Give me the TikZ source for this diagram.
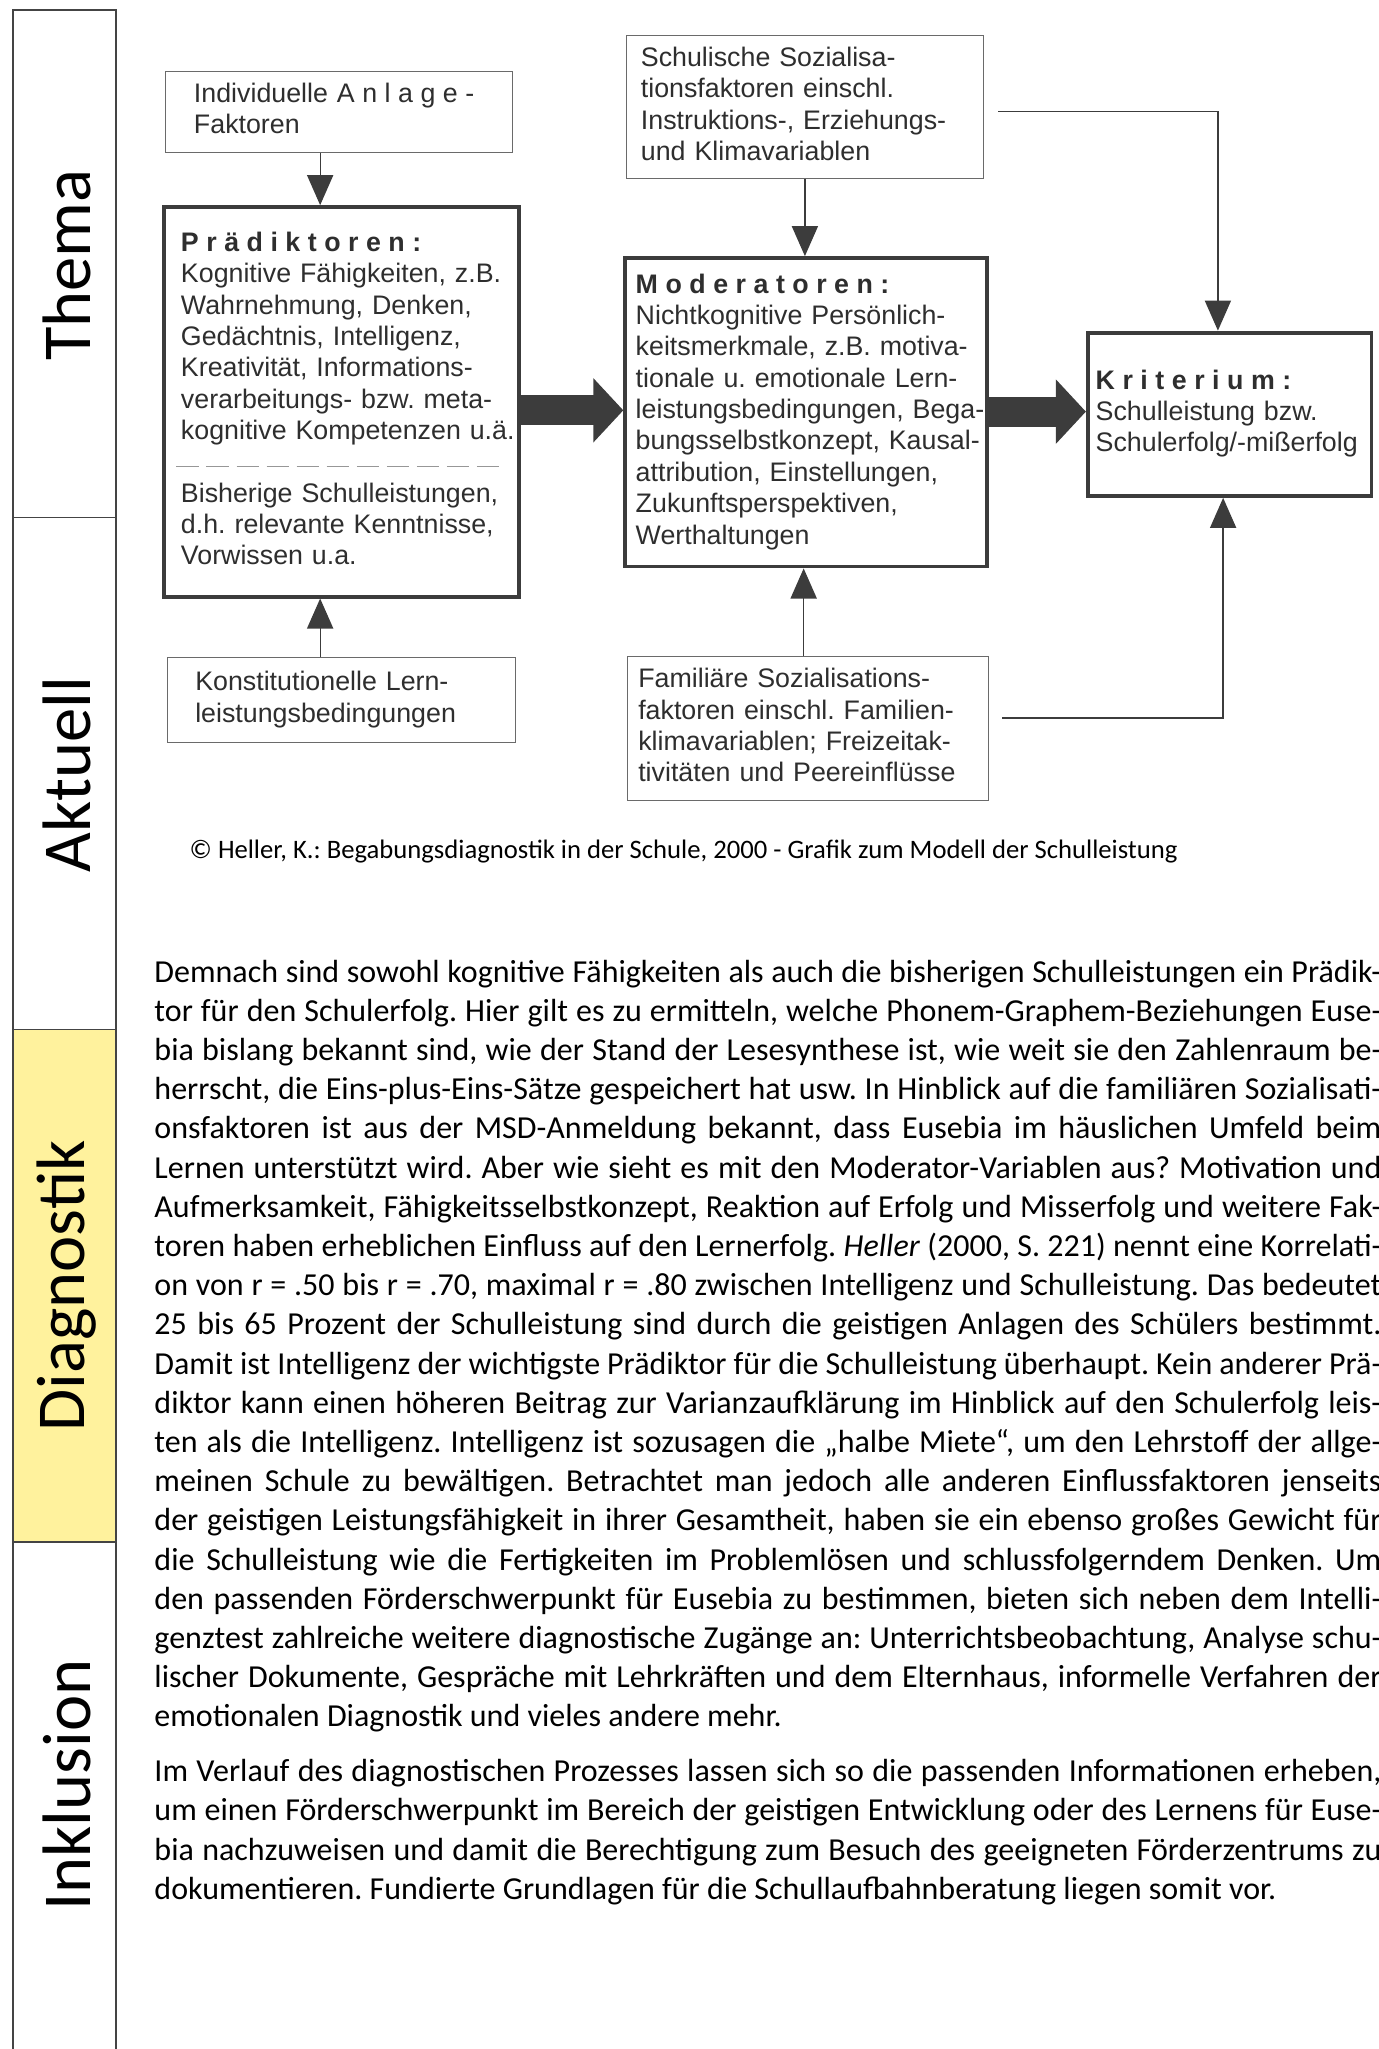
\documentclass[tikz,border=0pt]{standalone}
\usepackage{fontspec}
\setmainfont{Carlito}
\newfontfamily\diafont{Liberation Sans}
\usetikzlibrary{arrows.meta,calc}
\definecolor{ink}{HTML}{2E2E2E}
\definecolor{frame}{HTML}{3C3C3C}
\definecolor{thinframe}{HTML}{6A6A6A}
\definecolor{sideyellow}{HTML}{FFF29D}
\definecolor{sideline}{HTML}{444444}
\newcommand\hd[1]{{\bfseries\addfontfeature{LetterSpace=28}#1}}
\newcommand\jl[1]{\hbox to\linewidth{#1}}
\begin{document}
\frenchspacing
\begin{tikzpicture}[x=1pt,y=-1pt,
  thinbox/.style={draw=thinframe, line width=0.9pt, fill=white, anchor=north west,
    inner ysep=0pt, align=left, text=ink, font=\diafont\fontsize{20.5}{24}\selectfont},
  thickbox/.style={thinbox, draw=frame, line width=3pt},
  thinarrow/.style={draw=frame, line width=1pt, -{Triangle[length=23pt,width=20pt]}},
  bigarrow/.style={draw=frame, line width=23pt, -{Triangle[length=23pt,width=48pt]}},
  sidelabel/.style={rotate=90, font=\fontsize{52.5}{60}\selectfont},
  bodytext/.style={anchor=base west, inner sep=0pt},
]
\useasboundingbox (0,0) rectangle (1055,1568);
\clip (0,0) rectangle (1055,1568);

% sidebar
\fill[sideyellow] (10,788) rectangle (89,1180);
\draw[sideline, line width=1.6pt] (10,1572) -- (10,8) -- (89,8) -- (89,1572);
\draw[sideline, line width=1pt] (10,396) -- (89,396) (10,788) -- (89,788) (10,1180) -- (89,1180);
\node[sidelabel] (sThema) at (51,203) {Thema};
\node[sidelabel] (sAktuell) at (51,593) {Aktuell};
\node[sidelabel] (sDiag) at (51,984) {Diagnostik};
\node[sidelabel] (sInkl) at (51,1366) {Inklusion};

% boxes
\node[thinbox, inner xsep=22pt, text width=222pt, minimum height=62pt] (anlage) at (126,54)
  {\begin{tabular}{@{}l@{}}Individuelle {\addfontfeature{LetterSpace=28}Anlage-}\\Faktoren\end{tabular}};
\node[thickbox, inner xsep=13pt, text width=246pt, minimum height=298pt] (praed) at (124,157)
  {\begin{tabular}{@{}l@{}}\hd{Prädiktoren:}\\Kognitive Fähigkeiten, z.B.\\Wahrnehmung, Denken,\\Gedächtnis, Intelligenz,\\Kreativität, Informations-\\verarbeitungs- bzw. meta-\\kognitive Kompetenzen u.ä.\\[24pt]Bisherige Schulleistungen,\\d.h. relevante Kenntnisse,\\Vorwissen u.a.\end{tabular}};
\node[thinbox, inner xsep=21pt, text width=224pt, minimum height=65pt] (konst) at (128,503)
  {\begin{tabular}{@{}l@{}}Konstitutionelle Lern-\\leistungsbedingungen\end{tabular}};
\node[thinbox, inner xsep=11pt, text width=251pt, minimum height=109pt] (schul) at (479,27)
  {\begin{tabular}{@{}l@{}}Schulische Sozialisa-\\tionsfaktoren einschl.\\Instruktions-, Erziehungs-\\und Klimavariablen\end{tabular}};
\node[thickbox, inner xsep=8pt, text width=261pt, minimum height=236pt] (mod) at (477,196)
  {\begin{tabular}{@{}l@{}}\hd{Moderatoren:}\\Nichtkognitive Persönlich-\\keitsmerkmale, z.B. motiva-\\tionale u. emotionale Lern-\\leistungsbedingungen, Bega-\\bungsselbstkonzept, Kausal-\\attribution, Einstellungen,\\Zukunftsperspektiven,\\Werthaltungen\end{tabular}};
\node[thinbox, inner xsep=8pt, text width=260pt, minimum height=110pt] (fam) at (480,502)
  {\begin{tabular}{@{}l@{}}Familiäre Sozialisations-\\faktoren einschl. Familien-\\klimavariablen; Freizeitak-\\tivitäten und Peereinflüsse\end{tabular}};
\node[thickbox, inner xsep=6pt, text width=205pt, minimum height=125pt] (krit) at (831,253)
  {\begin{tabular}{@{}l@{}}\hd{Kriterium:}\\Schulleistung bzw.\\Schulerfolg/-mißerfolg\end{tabular}};

% dashed separator in Praediktoren
\draw[thinframe!70, line width=0.8pt, dash pattern=on 17pt off 6pt] (135,357) -- (386,357);

% connectors
\draw[thinarrow] (245,0 |- anlage.south) -- (245,0 |- praed.north);
\draw[thinarrow] (245,0 |- konst.north) -- (245,0 |- praed.south);
\draw[thinarrow] (schul.south) -- (schul.south |- mod.north);
\draw[thinarrow] (615,0 |- fam.north) -- (615,0 |- mod.south);
\draw[bigarrow] (praed.east |- 0,314) -- (mod.west |- 0,314);
\draw[bigarrow] (mod.east |- 0,315) -- (krit.west |- 0,315);
\coordinate (s1) at ($(schul.east)+(11,3.5)$);
\draw[thinarrow] (s1) -| ($(krit.north)+(-9,0)$);
\coordinate (f1) at ($(fam.east)+(10,-8)$);
\draw[thinarrow] (f1) -| ($(krit.south)+(-5,0)$);

% caption
\node[bodytext, font=\fontsize{20.4}{24}\selectfont] (caption) at (145,657)
  {© Heller, K.: Begabungsdiagnostik in der Schule, 2000 - Grafik zum Modell der Schulleistung};

% body text
\node[bodytext] (para1) at (118,751.5) {\begin{minipage}[t]{939pt}\fontsize{24.5}{30}\selectfont
\jl{Demnach sind sowohl kognitive Fähigkeiten als auch die bisherigen Schulleistungen ein Prädik-}
\jl{tor für den Schulerfolg. Hier gilt es zu ermitteln, welche Phonem-Graphem-Beziehungen Euse-}
\jl{bia bislang bekannt sind, wie der Stand der Lesesynthese ist, wie weit sie den Zahlenraum be-}
\jl{herrscht, die Eins-plus-Eins-Sätze gespeichert hat usw. In Hinblick auf die familiären Sozialisati-}
\jl{onsfaktoren ist aus der MSD-Anmeldung bekannt, dass Eusebia im häuslichen Umfeld beim}
\jl{Lernen unterstützt wird. Aber wie sieht es mit den Moderator-Variablen aus? Motivation und}
\jl{Aufmerksamkeit, Fähigkeitsselbstkonzept, Reaktion auf Erfolg und Misserfolg und weitere Fak-}
\jl{toren haben erheblichen Einfluss auf den Lernerfolg. \textit{Heller} (2000, S. 221) nennt eine Korrelati-}
\jl{on von r = .50 bis r = .70, maximal r = .80 zwischen Intelligenz und Schulleistung. Das bedeutet}
\jl{25 bis 65 Prozent der Schulleistung sind durch die geistigen Anlagen des Schülers bestimmt.}
\jl{Damit ist Intelligenz der wichtigste Prädiktor für die Schulleistung überhaupt. Kein anderer Prä-}
\jl{diktor kann einen höheren Beitrag zur Varianzaufklärung im Hinblick auf den Schulerfolg leis-}
\jl{ten als die Intelligenz. Intelligenz ist sozusagen die „halbe Miete“, um den Lehrstoff der allge-}
\jl{meinen Schule zu bewältigen. Betrachtet man jedoch alle anderen Einflussfaktoren jenseits}
\jl{der geistigen Leistungsfähigkeit in ihrer Gesamtheit, haben sie ein ebenso großes Gewicht für}
\jl{die Schulleistung wie die Fertigkeiten im Problemlösen und schlussfolgerndem Denken. Um}
\jl{den passenden Förderschwerpunkt für Eusebia zu bestimmen, bieten sich neben dem Intelli-}
\jl{genztest zahlreiche weitere diagnostische Zugänge an: Unterrichtsbeobachtung, Analyse schu-}
\jl{lischer Dokumente, Gespräche mit Lehrkräften und dem Elternhaus, informelle Verfahren der}
\hbox{emotionalen Diagnostik und vieles andere mehr.}
\end{minipage}};
\node[bodytext] (para2) at (118,1363.5) {\begin{minipage}[t]{939pt}\fontsize{24.5}{30}\selectfont
\jl{Im Verlauf des diagnostischen Prozesses lassen sich so die passenden Informationen erheben,}
\jl{um einen Förderschwerpunkt im Bereich der geistigen Entwicklung oder des Lernens für Euse-}
\jl{bia nachzuweisen und damit die Berechtigung zum Besuch des geeigneten Förderzentrums zu}
\hbox{dokumentieren. Fundierte Grundlagen für die Schullaufbahnberatung liegen somit vor.}
\end{minipage}};
\end{tikzpicture}
\end{document}
